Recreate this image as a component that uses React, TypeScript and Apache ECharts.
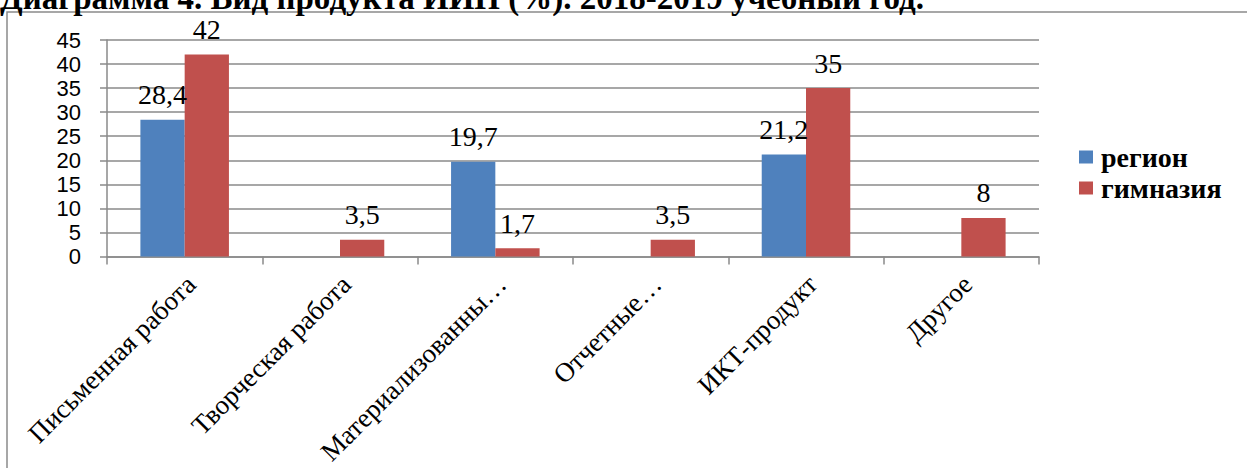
import React, { useEffect, useRef } from "react";
import * as echarts from "echarts";

const titleText = "Диаграмма 4. Вид продукта ИИП (%). 2018-2019 учебный год.";
const categories = [
  "Письменная работа",
  "Творческая работа",
  "Материализованны…",
  "Отчетные…",
  "ИКТ-продукт",
  "Другое",
];
const seriesNames = ["регион", "гимназия"];
const regionValues: (number | null)[] = [28.4, null, 19.7, null, 21.2, null];
const gymnasiumValues: (number | null)[] = [42, 3.5, 1.7, 3.5, 35, 8];
const yMin = 0;
const yMax = 45;
const yStep = 5;

const BLUE = "#4F81BD";
const RED = "#C0504D";
const GRID = "#8a8a8a";

const fmt = (v: number) => String(v).replace(".", ",");

export default function App() {
  const ref = useRef<HTMLDivElement>(null);
  useEffect(() => {
    document.body.style.margin = "0";
    const chart = echarts.init(ref.current!, null, { renderer: "svg" });
    const labelStyle = {
      show: true,
      position: "top" as const,
      distance: 11,
      fontFamily: "Liberation Serif",
      fontSize: 28,
      color: "#000",
      formatter: (p: any) => fmt(p.value),
    };
    chart.setOption({
      animation: false,
      backgroundColor: "#fff",
      graphic: [
        {
          type: "rect",
          shape: { x: 7, y: 12, width: 1400, height: 800 },
          style: { fill: "none", stroke: GRID, lineWidth: 1.5 },
          silent: true,
        },
        {
          type: "text",
          x: 0,
          y: 14,
          style: {
            text: titleText,
            font: 'bold 33px "Liberation Serif"',
            fill: "#000",
            verticalAlign: "bottom",
          },
        },
      ],
      grid: { left: 107, right: 208, top: 40, bottom: 211, containLabel: false },
      legend: {
        orient: "vertical",
        left: 1074,
        top: 138,
        itemWidth: 14,
        itemHeight: 13,
        itemGap: 3,
        icon: "rect",
        data: seriesNames,
        textStyle: {
          fontFamily: "Liberation Serif",
          fontWeight: "bold",
          fontSize: 28,
          color: "#000",
          padding: [0, 0, 0, 3],
        },
      },
      xAxis: {
        type: "category",
        data: categories,
        axisLine: { lineStyle: { color: GRID, width: 1.5 } },
        axisTick: { show: true, length: 8, lineStyle: { color: GRID, width: 1.5 } },
        axisLabel: {
          rotate: 45,
          interval: 0,
          margin: 17,
          verticalAlign: "top",
          lineHeight: 18,
          fontFamily: "Liberation Serif",
          fontSize: 27,
          color: "#000",
        },
      },
      yAxis: {
        type: "value",
        min: yMin,
        max: yMax,
        interval: yStep,
        axisLine: { show: true, lineStyle: { color: GRID, width: 1.5 } },
        axisTick: { show: true, length: 7, lineStyle: { color: GRID, width: 1.5 } },
        splitLine: { lineStyle: { color: GRID, width: 1.5 } },
        axisLabel: {
          margin: 26,
          fontFamily: "Liberation Sans",
          fontSize: 22,
          color: "#000",
        },
      },
      series: [
        {
          name: seriesNames[0],
          type: "bar",
          data: regionValues,
          barWidth: "28.5%",
          barGap: "0%",
          itemStyle: { color: BLUE },
          label: labelStyle,
        },
        {
          name: seriesNames[1],
          type: "bar",
          data: gymnasiumValues,
          barWidth: "28.5%",
          barGap: "0%",
          itemStyle: { color: RED },
          label: labelStyle,
        },
      ],
    });
    return () => chart.dispose();
  }, []);
  return <div ref={ref} style={{ width: 1247, height: 468 }} />;
}
